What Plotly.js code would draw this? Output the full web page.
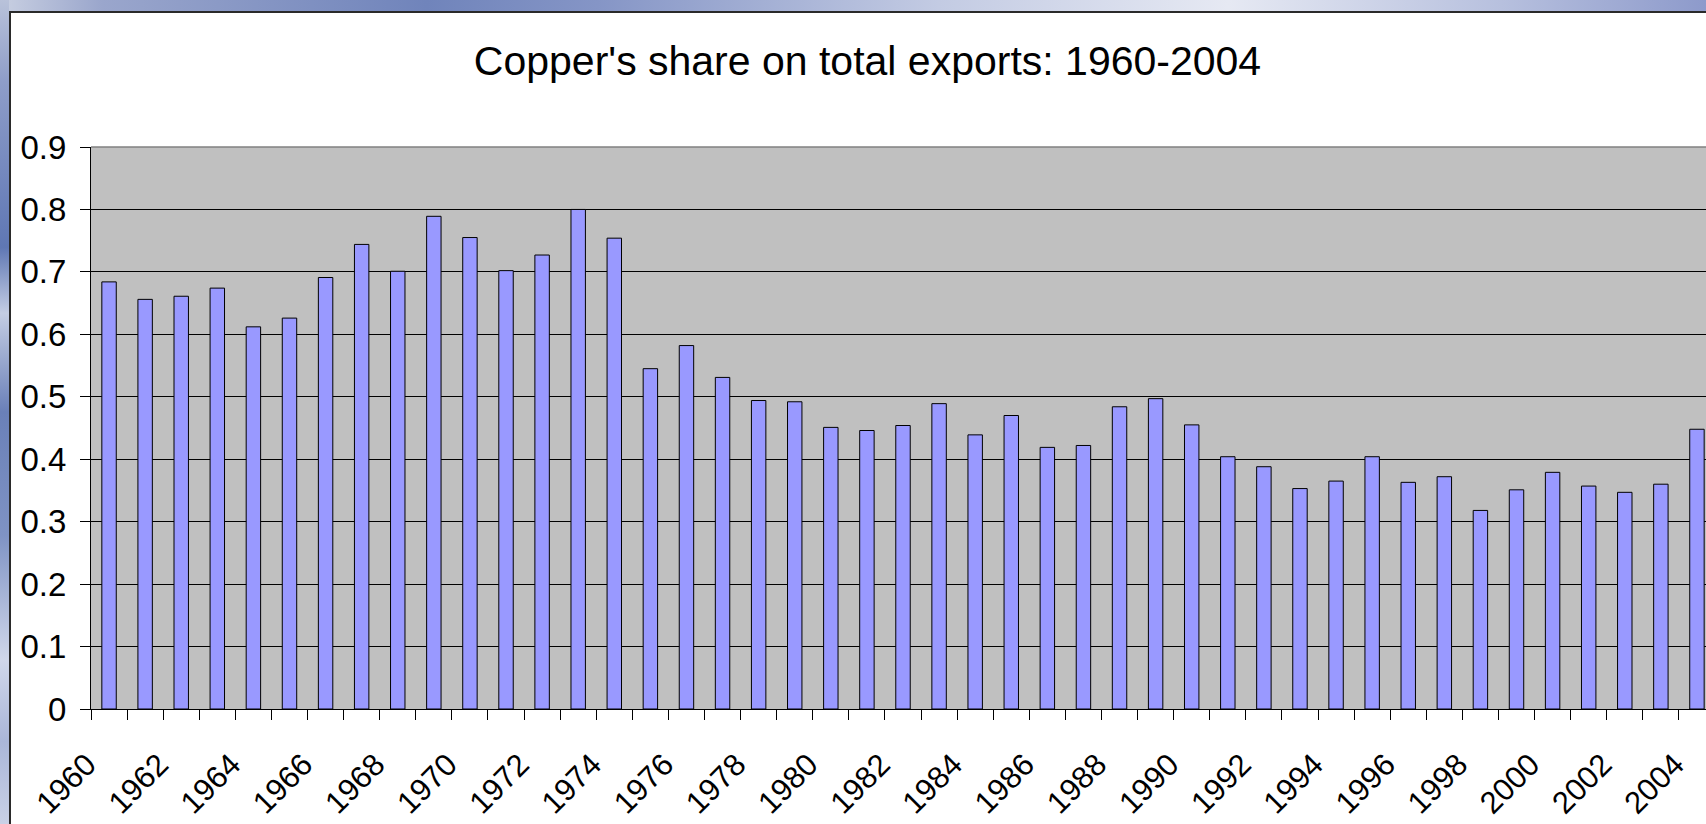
<!DOCTYPE html>
<html>
<head>
<meta charset="utf-8">
<script src="https://cdn.plot.ly/plotly-3.0.1.min.js"></script>
<style>
  html, body { margin: 0; padding: 0; width: 1706px; height: 824px; overflow: hidden; }
  body {
    background: linear-gradient(to right, #c9d0e2 0%, #9aa6cc 6%, #7084bb 25%, #8595c6 35%, #c3cbe3 55%, #e6e9f3 72%, #b7c0de 88%, #8d9acb 100%);
    position: relative;
  }
  #leftstrip {
    position: absolute; left: 0; top: 0; width: 9px; height: 824px;
    background: linear-gradient(to bottom, #b9c2da 0%, #8e9dc8 10%, #5f77b4 30%, #c4cde3 38%, #6a80b8 50%, #7f93c4 65%, #d0d7ea 80%, #aab6d8 90%, #c9d1e6 100%);
  }
  #frame {
    position: absolute; left: 9px; top: 11px; width: 1713px; height: 813px;
    background: #ffffff; border-left: 2px solid #2a2a2a; border-top: 2px solid #2a2a2a;
  }
  #chart { position: absolute; left: 0; top: 0; width: 1713px; height: 813px; }
</style>
</head>
<body>
<div id="leftstrip"></div>
<div id="frame"><div id="chart"></div></div>
<script>
// ---- data ----
const years = [1960, 1961, 1962, 1963, 1964, 1965, 1966, 1967, 1968, 1969,
               1970, 1971, 1972, 1973, 1974, 1975, 1976, 1977, 1978, 1979,
               1980, 1981, 1982, 1983, 1984, 1985, 1986, 1987, 1988, 1989,
               1990, 1991, 1992, 1993, 1994, 1995, 1996, 1997, 1998, 1999,
               2000, 2001, 2002, 2003, 2004];
const copperShare = [0.684, 0.656, 0.661, 0.674, 0.612, 0.626, 0.691, 0.744, 0.701, 0.789,
                     0.755, 0.702, 0.727, 0.800, 0.754, 0.545, 0.582, 0.531, 0.494, 0.492,
                     0.451, 0.446, 0.454, 0.489, 0.439, 0.470, 0.419, 0.422, 0.484, 0.497,
                     0.455, 0.404, 0.388, 0.353, 0.365, 0.404, 0.363, 0.372, 0.318, 0.351,
                     0.379, 0.357, 0.347, 0.360, 0.448];
const labelYears = [1960, 1962, 1964, 1966, 1968, 1970, 1972, 1974, 1976, 1978, 1980,
                    1982, 1984, 1986, 1988, 1990, 1992, 1994, 1996, 1998, 2000, 2002, 2004];
const labelText = labelYears.map(String);
const yTicks = [0, 0.1, 0.2, 0.3, 0.4, 0.5, 0.6, 0.7, 0.8, 0.9];
const yTickText = ['0', '0.1', '0.2', '0.3', '0.4', '0.5', '0.6', '0.7', '0.8', '0.9'];
const chartTitle = "Copper's share on total exports: 1960-2004";

const FONT = '"Liberation Sans", Arial, sans-serif';

const trace = {
  type: 'bar',
  x: years,
  y: copperShare,
  width: 0.4,
  marker: { color: '#9999FF', line: { color: '#000000', width: 1 } },
  hoverinfo: 'x+y'
};

const layout = {
  width: 1713,
  height: 813,
  margin: { l: 80, r: 9, t: 134, b: 117, pad: 0 },
  paper_bgcolor: 'rgba(0,0,0,0)',
  plot_bgcolor: '#C0C0C0',
  showlegend: false,
  font: { family: FONT, color: '#000000' },
  title: {
    text: chartTitle,
    font: { family: FONT, size: 41, color: '#000000' },
    x: 0.5, xref: 'container', xanchor: 'center',
    y: 1 - 48 / 813, yref: 'container', yanchor: 'middle'
  },
  xaxis: {
    type: 'linear',
    range: [1959.5, 2004.5],
    tickmode: 'array',
    tickvals: labelYears,
    ticktext: labelText,
    ticks: '',
    tickangle: -45,
    tickfont: { family: FONT, size: 31, color: '#000000' },
    ticklabelshift: -22,
    ticklabelstandoff: 24,
    showgrid: false,
    zeroline: false,
    showline: true,
    linecolor: '#000000',
    linewidth: 1,
    minor: { ticks: 'outside', ticklen: 10, tickwidth: 1, tickcolor: '#000000', tick0: 1959.5, dtick: 1, showgrid: false },
    fixedrange: true
  },
  yaxis: {
    range: [0, 0.9],
    tickmode: 'array',
    tickvals: yTicks,
    ticktext: yTickText,
    ticks: 'outside',
    ticklen: 10,
    tickwidth: 1,
    tickcolor: '#000000',
    tickfont: { family: FONT, size: 33, color: '#000000' },
    ticklabelstandoff: 7,
    showgrid: true,
    gridcolor: '#000000',
    gridwidth: 1,
    zeroline: false,
    showline: true,
    linecolor: '#000000',
    linewidth: 1,
    fixedrange: true
  },
  shapes: [
    { type: 'line', xref: 'paper', yref: 'paper', x0: 0, x1: 1, y0: 1, y1: 1,
      line: { color: '#808080', width: 1.5 } }
  ]
};

Plotly.newPlot('chart', [trace], layout, { displayModeBar: false, staticPlot: true });
</script>
</body>
</html>
